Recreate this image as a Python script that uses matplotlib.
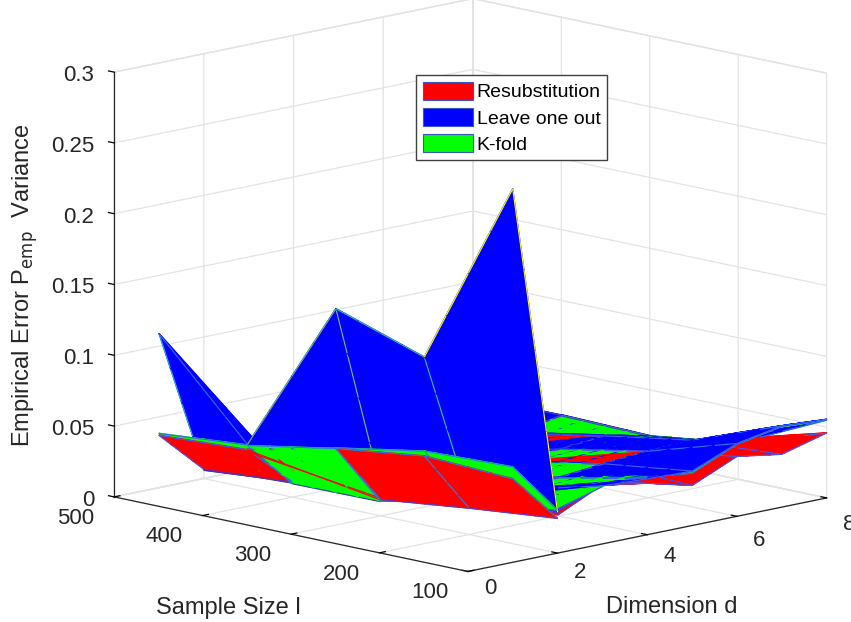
#Empirical error variance surfaces, drawn as one depth sorted set of small facets
import numpy as np
import matplotlib
matplotlib.use('Agg')
import matplotlib.pyplot as plt
from matplotlib.colors import LinearSegmentedColormap
from matplotlib.patches import Patch
from matplotlib.ticker import NullFormatter
from mpl_toolkits.mplot3d.art3d import Poly3DCollection

plt.rcParams['font.family'] = ['Liberation Sans', 'DejaVu Sans']

dims = [1, 2, 3, 4, 5, 6, 7, 8]
sizes = [100, 200, 300, 400, 500]

# rows = sample size 100..500, columns = dimension 1..8
resub = [[.061, .0265, .0416, .036, .028, .042, .037, .0456],
         [.064, .0205, .0250, .0272, .0305, .0330, .033, .0254],
         [.056, .0134, .020, .0250, .0195, .0212, .0240, .0172],
         [.042, .0127, .019, .019, .019, .007, .0130, .0188],
         [.039, .0085, .018, .018, .018, .018, .018, .018]]
loo = [[.265, .030, .0416, .040, .039, .052, .058, .056],
       [.133, .0254, .0256, .0278, .0310, .0334, .0346, .026],
       [.154, .022, .021, .0256, .0200, .0217, .0245, .0178],
       [.045, .012, .020, .020, .020, .008, .0136, .0194],
       [.110, .007, .020, .020, .020, .020, .020, .020]]
kfold = [[.069, .0318, .041, .041, .037, .051, .057, .055],
         [.067, .0245, .0253, .0275, .0308, .0332, .034, .0258],
         [.056, .012, .020, .0254, .0198, .0215, .0243, .0176],
         [.045, .0115, .020, .020, .020, .007, .0134, .019],
         [.040, .009, .019, .019, .019, .019, .019, .019]]

names = ['Resubstitution', 'Leave one out', 'K-fold']
colors = ['#ff0000', '#0000ff', '#00ff00']
d_ticks = [0, 2, 4, 6, 8]
l_ticks = [100, 200, 300, 400, 500]
z_ticks = [0, .05, .1, .15, .2, .25, .3]
z_labels = ['0', '0.05', '0.1', '0.15', '0.2', '0.25', '0.3']

# which surface shows in front on a facet: (row, column, half) -> series
# the three surfaces nearly coincide there, so the original renderer z-fights
on_top = {(2, 0, 0): 2, (2, 0, 1): 2,
          (2, 6, 1): 2, (2, 6, 0): 1,
          (2, 5, 1): 0, (2, 5, 0): 1,
          (1, 4, 1): 2, (1, 4, 0): 0,
          (1, 3, 1): 1, (1, 3, 0): 2,
          (0, 2, 1): 2, (0, 2, 0): 1,
          (0, 1, 1): 1, (0, 1, 0): 2}

parula = LinearSegmentedColormap.from_list('parula', [
    (.24, .15, .66), (.28, .33, .97), (.15, .5, .9), (.1, .66, .82),
    (.2, .74, .63), (.55, .75, .35), (.9, .73, .2), (.98, .9, .13), (.98, .98, .05)])

elev, azim = 12, -134.6
ranges = np.array([8, 400, .3])
cam = np.array([np.cos(np.radians(elev)) * np.cos(np.radians(azim)),
                np.cos(np.radians(elev)) * np.sin(np.radians(azim)),
                np.sin(np.radians(elev))])
N = 4


def split(tri):
    # cut one triangle into N*N small ones
    a, b, c = tri
    pt = lambda i, j: a + (b - a) * i / N + (c - a) * j / N
    out = []
    for i in range(N):
        for j in range(N - i):
            out.append(np.array([pt(i, j), pt(i + 1, j), pt(i, j + 1)]))
            if i + j < N - 1:
                out.append(np.array([pt(i + 1, j), pt(i + 1, j + 1), pt(i, j + 1)]))
    return out


series = [np.array(resub), np.array(loo), np.array(kfold)]
polys, faces, edges = [], [], []
edge_bias = [{}, {}, {}]
for i in range(len(sizes) - 1):
    for j in range(len(dims) - 1):
        for t, idx in enumerate(([(i, j), (i + 1, j), (i, j + 1)],
                                 [(i + 1, j), (i + 1, j + 1), (i, j + 1)])):
            means = [np.mean([Z[v] for v in idx]) for Z in series]
            # d=1..2 faces the viewer with its underside, so the lowest layer is nearest
            order = list(np.argsort(means)) if j == 0 else list(np.argsort(means)[::-1])
            if (i, j, t) in on_top:
                order.remove(on_top[(i, j, t)])
                order.insert(0, on_top[(i, j, t)])
            for rank, s in enumerate(order):
                bias = (.04 - .04 * rank) + (.15 if j == 0 else 0)
                corners = [np.array([dims[v[1]], sizes[v[0]], series[s][v]]) for v in idx]
                for small in split(corners):
                    polys.append(small + bias * cam * ranges)
                    faces.append(colors[s])
                    edges.append(colors[s])
                for a in range(3):
                    key = frozenset((idx[a], idx[(a + 1) % 3]))
                    edge_bias[s][key] = max(edge_bias[s].get(key, -1), bias)


def add_line(a, b, c, shift):
    for k in range(N):
        p = a + (b - a) * k / N + shift
        q = a + (b - a) * (k + 1) / N + shift
        polys.append(np.array([p, q, p]))
        faces.append(c)
        edges.append(c)


# mesh lines, coloured from their first vertex like a default surf
for s, Z in enumerate(series):
    for i in range(len(sizes)):
        for j in range(len(dims)):
            for i2, j2 in ((i + 1, j), (i, j + 1)):
                if i2 < len(sizes) and j2 < len(dims):
                    a = np.array([dims[j], sizes[i], Z[i, j]])
                    b = np.array([dims[j2], sizes[i2], Z[i2, j2]])
                    shift = cam * ranges * (edge_bias[s][frozenset(((i, j), (i2, j2)))] + .015)
                    add_line(a, b, parula(Z[i, j] / .265), shift)

# the red sliver that pokes through the green facet along its diagonal
for dz in (0, .0012):
    add_line(np.array([dims[0], sizes[3], series[0][3, 0] - dz]),
             np.array([dims[1], sizes[2], series[0][2, 1] + dz]), colors[0], cam * ranges * .22)

fig = plt.figure(figsize=(8.51, 6.22), dpi=100)
ax = fig.add_axes([.064, -.127, .9518, 1.3023], projection='3d', proj_type='ortho')
ax.view_init(elev=elev, azim=azim)
ax.set_box_aspect((1, 1, .862), zoom=1)
ax.set_xlim(0, 8)
ax.set_ylim(100, 500)
ax.set_zlim(0, .3)
ax.patch.set_alpha(0)

ax.add_collection3d(Poly3DCollection(polys, facecolors=faces, edgecolors=edges, linewidths=.85))

ax.set_xticks(d_ticks)
ax.set_yticks(l_ticks)
ax.set_zticks(z_ticks)
ax.zaxis._get_tickdir = lambda pos: 1  # z ticks run along the sample size axis
for axis in (ax.xaxis, ax.yaxis, ax.zaxis):
    axis.set_major_formatter(NullFormatter())
    axis.set_tick_params(label1On=False)
    axis.set_pane_color((1, 1, 1, 1))
    axis.pane.set_edgecolor('#e3e3e3')
    axis._axinfo['grid'].update(color='#e3e3e3', linewidth=.9)
    axis._axinfo['tick'].update(inward_factor=0, outward_factor=.2, linewidth={True: .9, False: .9}, color='#262626')
    axis._axinfo['axisline']['color'] = '#262626'
    axis.line.set_color('#262626')
    axis.line.set_linewidth(.9)

tc = '#262626'
for d in d_ticks:
    ax.text(d, 75, -.009 - d * .0008, str(d), fontsize=16, color=tc, ha='center', va='center')
for l in l_ticks:
    ax.text(-.85, l, -.0095, str(l), fontsize=16, color=tc, ha='center', va='center')
for z, s in zip(z_ticks, z_labels):
    ax.text(-.45, 500, z + .0005, s, fontsize=16, color=tc, ha='right', va='center')

fig.text(228 / 851, 1 - 608 / 622, 'Sample Size l', fontsize=17, color=tc, ha='center', va='center')
fig.text(672 / 851, 1 - 607 / 622, 'Dimension d', fontsize=17, color=tc, ha='center', va='center')
fig.text(25 / 851, 1 - 285 / 622, r'Empirical Error P$_{\mathrm{emp}}$  Variance', fontsize=17, color=tc,
         ha='center', va='center', rotation=90, math_fontfamily='custom')

handles = [Patch(facecolor=c, edgecolor='#3a55c8', linewidth=.8) for c in colors]
fig.legend(handles, names, loc='upper left', bbox_to_anchor=(416 / 851, 1 - 75 / 622), fontsize=14,
           fancybox=False, framealpha=1, edgecolor='#404040', borderpad=.34, borderaxespad=0,
           handlelength=2.58, handleheight=1.05, handletextpad=.2, labelspacing=.34)

fig.savefig('out.png', dpi=100)
